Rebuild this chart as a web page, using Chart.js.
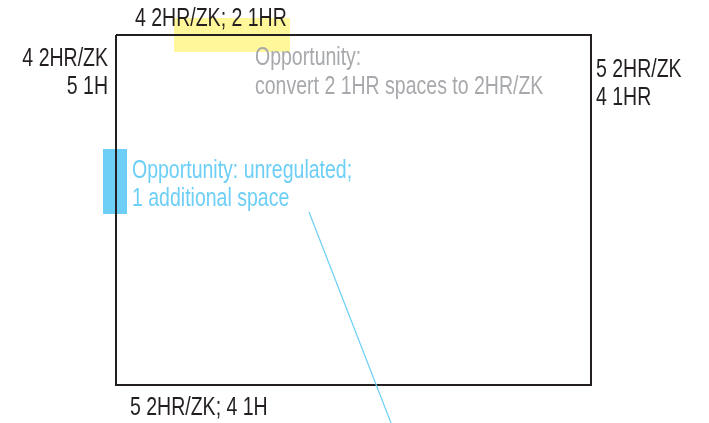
<!DOCTYPE html>
<html>
<head>
<meta charset="utf-8">
<script src="https://cdn.jsdelivr.net/npm/chart.js@4/dist/chart.umd.min.js"></script>
<style>
    body { margin: 0; background: #fff; }
    #wrap { width: 709px; height: 423px; position: relative; }
</style>
</head>
<body>
<div id="wrap"><canvas id="chart-block"></canvas></div>
<script>
// block outline and callouts, in sheet units (0..709 across, 0..423 down)
const blockX = [116, 591, 591, 116, 116];
const blockY = [35, 35, 385, 385, 35];
const yellowX = [174, 290];
const yellowY = [18, 52];
const blueX = [103, 127];
const blueY = [149, 214];
const leaderX = [309, 391];
const leaderY = [212, 423];

const topLabel = ['4 2HR/ZK; 2 1HR'];
const leftLabel = ['4 2HR/ZK', '5 1H'];
const rightLabel = ['5 2HR/ZK', '4 1HR'];
const bottomLabel = ['5 2HR/ZK; 4 1H'];
const grayNote = ['Opportunity:', 'convert 2 1HR spaces to 2HR/ZK'];
const blueNote = ['Opportunity: unregulated;', '1 additional space'];

// condensed look: tall font squeezed horizontally
const FONT = '26.5px "Liberation Sans", Arial, sans-serif';
const SQUEEZE = 0.736;
const notes = [
    { lines: topLabel, x: 135, y: 25.5, step: 0, align: 'left', color: '#231f20' },
    { lines: leftLabel, x: 108, y: 66, step: 28, align: 'right', color: '#231f20' },
    { lines: rightLabel, x: 596, y: 77, step: 28, align: 'left', color: '#231f20' },
    { lines: bottomLabel, x: 130, y: 415, step: 0, align: 'left', color: '#231f20' },
    { lines: grayNote, x: 255, y: 64.5, step: 29, align: 'left', color: '#a7a9ac' },
    { lines: blueNote, x: 132, y: 177.5, step: 28, align: 'left', color: '#6dcff6' },
];

const pts = (xs, ys) => xs.map((x, i) => ({ x, y: ys[i] }));

const notesPlugin = {
    id: 'notes',
    afterDatasetsDraw(chart) {
        const { ctx, scales } = chart;
        notes.forEach(n => {
            n.lines.forEach((t, i) => {
                ctx.save();
                ctx.font = FONT;
                ctx.textBaseline = 'alphabetic';
                ctx.fillStyle = n.color;
                ctx.textAlign = n.align;
                ctx.translate(scales.x.getPixelForValue(n.x), scales.y.getPixelForValue(n.y + i * n.step));
                ctx.scale(SQUEEZE, 1);
                ctx.fillText(t, 0, 0);
                ctx.restore();
            });
        });
    }
};

new Chart(document.getElementById('chart-block'), {
    type: 'scatter',
    data: {
        datasets: [
            {
                data: pts(yellowX, [yellowY[0], yellowY[0]]),
                showLine: true, borderWidth: 0, pointRadius: 0,
                backgroundColor: '#fff799', fill: { value: yellowY[1] }, order: 3
            },
            {
                data: pts(blueX, [blueY[0], blueY[0]]),
                showLine: true, borderWidth: 0, pointRadius: 0,
                backgroundColor: '#6dcff6', fill: { value: blueY[1] }, order: 3
            },
            {
                data: pts(blockX, blockY),
                showLine: true, borderWidth: 2, pointRadius: 0,
                borderColor: '#231f20', borderJoinStyle: 'miter', fill: false, order: 2
            },
            {
                data: pts(leaderX, leaderY),
                showLine: true, borderWidth: 1.2, pointRadius: 0,
                borderColor: '#6dcff6', fill: false, order: 1
            }
        ]
    },
    options: {
        responsive: true,
        maintainAspectRatio: false,
        animation: false,
        layout: { padding: 0 },
        plugins: { legend: { display: false }, tooltip: { enabled: false } },
        scales: {
            x: { type: 'linear', min: 0, max: 709, display: false },
            y: { type: 'linear', min: 0, max: 423, reverse: true, display: false }
        }
    },
    plugins: [notesPlugin]
});
</script>
</body>
</html>
